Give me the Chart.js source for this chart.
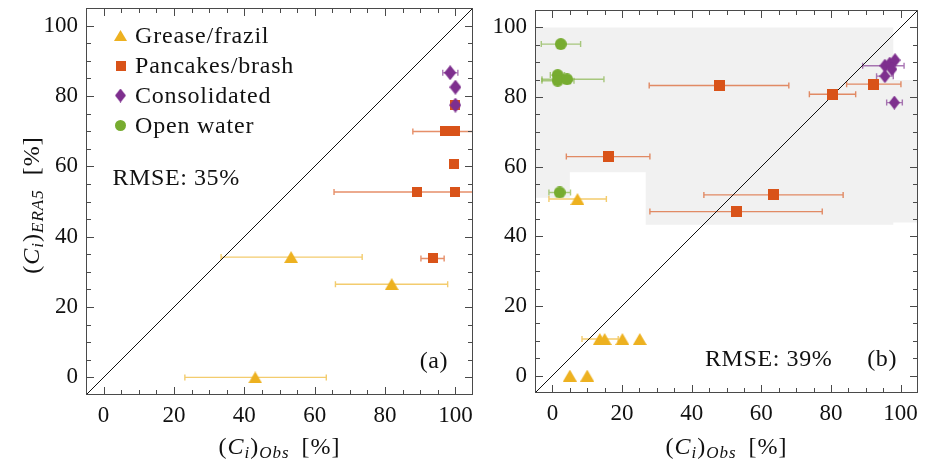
<!DOCTYPE html>
<html lang="en">
<head>
<meta charset="UTF-8" />
<title>Ice type concentration: ERA5 vs observations</title>
<script src="https://cdn.jsdelivr.net/npm/chart.js@4"></script>
<style>
  body { margin: 0; background: #fff; width: 926px; height: 465px; overflow: hidden; position: relative; }
  canvas { position: absolute; top: 0; }
  #chartA { left: 0; }
  #chartB { left: 480px; }
</style>
</head>
<body>
<canvas id="chartA" width="480" height="465"></canvas>
<canvas id="chartB" width="446" height="465"></canvas>
<script>
// axes
const axisMin = -5;
const axisMax = 105;
const tickVals = [0, 20, 40, 60, 80, 100];
const diagonal = [-5, 105];

const seriesNames = ['Grease/frazil', 'Pancakes/brash', 'Consolidated', 'Open water'];
const seriesColors = ['#EDB120', '#D95319', '#7E2F8E', '#77AC30'];
const errColors = ['rgba(237,177,32,0.65)', 'rgba(217,83,25,0.65)', 'rgba(126,47,142,0.65)', 'rgba(119,172,48,0.6)'];

// points: [obs, ERA5, obs low, obs high]  (null = no error bar)
// panel (a)
const aGrease = [[53.3, 34.2, 33.4, 73.5], [81.9, 26.5, 65.9, 97.8], [43.1, 0, 23.1, 63.3]];
const aPancake = [[93.6, 33.8, 90.2, 96.8], [89.1, 52.7, 65.5, 112], [100, 52.7, null, null],
  [99.7, 60.7, null, null], [96.9, 69.9, 87.9, 112], [100, 69.9, null, null], [100, 77.4, null, null]];
const aConsol = [[98.5, 86.6, 96.4, 100.7], [100, 82.5, null, null], [100, 77.4, null, null]];
const aOpen = [];
const aRmse = 'RMSE: 35%';

// panel (b)
const bGrease = [[7.2, 50.7, -1, 15.5], [13.6, 10.5, 8.5, 18.9], [15.0, 10.5, null, null],
  [20.1, 10.5, null, null], [25.1, 10.5, null, null], [5.0, 0, null, null], [10.0, 0, null, null]];
const bPancake = [[47.9, 83.3, 27.8, 67.9], [80.4, 80.8, 73.8, 87.1], [92.3, 83.7, 84.5, 100.1],
  [16.0, 62.9, 4.0, 28.0], [63.4, 51.9, 43.5, 83.5], [52.8, 47.1, 28.0, 77.5]];
const bConsol = [[98.2, 78.4, 96.0, 100.5], [95.5, 86.0, 93.1, 97.9], [95.5, 89.0, 89.1, 101.0],
  [96.9, 89.6, null, null], [98.4, 90.6, null, null], [97.5, 88.0, null, null]];
const bOpen = [[2.4, 95.2, -3.2, 8.1], [1.5, 86.3, -0.6, 3.5], [1.5, 84.7, -3.0, 6.2],
  [4.2, 85.1, -3.0, 14.8], [2.1, 52.6, -1.0, 5.2]];
const bRmse = 'RMSE: 39%';
// grey shaded area in (b), polygon in data units
const bShade = [[-5, 100], [97.9, 100], [97.9, 84.9], [105, 84.9], [105, 44], [97.9, 44], [97.9, 43.3],
  [26.8, 43.3], [26.8, 58.4], [5, 58.4], [5, 51.1], [-5, 51.1]];

const fontFam = '"Liberation Serif", "Times New Roman", serif';
const shapes = ['triangle', 'square', 'diamond', 'circle'];

function marker(shape, w, h, color) {
  const c = document.createElement('canvas');
  c.width = w; c.height = h;
  const g = c.getContext('2d');
  g.fillStyle = color;
  g.beginPath();
  if (shape === 'triangle') { g.moveTo(w / 2, 0); g.lineTo(w, h); g.lineTo(0, h); }
  else if (shape === 'square') { g.rect(0, 0, w, h); }
  else if (shape === 'diamond') { g.moveTo(w / 2, 0); g.lineTo(w, h / 2); g.lineTo(w / 2, h); g.lineTo(0, h / 2); }
  else { g.arc(w / 2, h / 2, w / 2, 0, Math.PI * 2); }
  g.closePath();
  g.fill();
  return c;
}

const sizesA = [[14, 12], [10, 10], [12, 15], [12, 12]];
const sizesB = [[14, 12], [11, 11], [11, 14], [12, 12]];
const sizesLegend = [[13, 11], [10, 10], [11, 14], [11, 11]];

const shadePlugin = {
  id: 'shade',
  beforeDatasetsDraw(chart, args, opts) {
    if (!opts.poly) return;
    const { ctx, scales: { x, y } } = chart;
    ctx.save();
    ctx.fillStyle = '#f1f1f1';
    ctx.beginPath();
    opts.poly.forEach((p, i) => {
      const px = x.getPixelForValue(p[0]), py = y.getPixelForValue(p[1]);
      if (i === 0) ctx.moveTo(px, py); else ctx.lineTo(px, py);
    });
    ctx.closePath();
    ctx.fill();
    ctx.restore();
  }
};

const errorBars = {
  id: 'errorBars',
  beforeDatasetsDraw(chart) {
    const { ctx, chartArea: a, scales: { x, y } } = chart;
    ctx.save();
    ctx.beginPath();
    ctx.rect(a.left, a.top, a.width, a.height);
    ctx.clip();
    ctx.lineWidth = 1.4;
    chart.data.datasets.forEach(ds => {
      if (!ds.xErr) return;
      ctx.strokeStyle = ds.errColor;
      ds.xErr.forEach((e, i) => {
        if (e[0] == null) return;
        const py = y.getPixelForValue(ds.data[i].y);
        const x0 = x.getPixelForValue(e[0]), x1 = x.getPixelForValue(e[1]);
        ctx.beginPath();
        ctx.moveTo(x0, py); ctx.lineTo(x1, py);
        ctx.moveTo(x0, py - 3); ctx.lineTo(x0, py + 3);
        ctx.moveTo(x1, py - 3); ctx.lineTo(x1, py + 3);
        ctx.stroke();
      });
    });
    ctx.restore();
  }
};

// box frame with inward major/minor ticks on all four sides
const framePlugin = {
  id: 'frame',
  afterDraw(chart) {
    const { ctx, chartArea: a, scales: { x, y } } = chart;
    ctx.save();
    ctx.strokeStyle = '#4a4a4a';
    ctx.lineWidth = 1;
    ctx.beginPath();
    for (let v = 0; v <= 100; v += 5) {
      const len = v % 20 === 0 ? 8 : 5;
      const px = Math.round(x.getPixelForValue(v)) + 0.5;
      const py = Math.round(y.getPixelForValue(v)) + 0.5;
      ctx.moveTo(px, a.bottom); ctx.lineTo(px, a.bottom - len);
      ctx.moveTo(px, a.top); ctx.lineTo(px, a.top + len);
      ctx.moveTo(a.left, py); ctx.lineTo(a.left + len, py);
      ctx.moveTo(a.right, py); ctx.lineTo(a.right - len, py);
    }
    ctx.stroke();
    ctx.strokeRect(a.left + 0.5, a.top + 0.5, a.width - 1, a.height - 1);
    ctx.restore();
  }
};

// parts: [text, 'n' upright | 'i' italic, subscript?]; a number is a blank gap in px
function drawMath(ctx, parts, cx, baseY) {
  const fontOf = p => (p[1] === 'i' ? 'italic ' : '') + (p[2] ? 17 : 24) + 'px ' + fontFam;
  const widthOf = p => {
    if (typeof p === 'number') return p;
    ctx.font = fontOf(p);
    return ctx.measureText(p[0]).width;
  };
  ctx.letterSpacing = '1px';
  let total = 0;
  parts.forEach(p => { total += widthOf(p); });
  let x = cx - total / 2;
  ctx.textAlign = 'left';
  ctx.textBaseline = 'alphabetic';
  parts.forEach(p => {
    const w = widthOf(p);
    if (typeof p !== 'number') ctx.fillText(p[0], x, baseY + (p[2] ? 4 : 0));
    x += w;
  });
}

const xTitle = [['(', 'n'], ['C', 'i'], ['i', 'i', 1], [')', 'n'], ['Obs', 'i', 1], 12, ['[%]', 'n']];
const yTitle = [['(', 'n'], ['C', 'i'], ['i', 'i', 1], [')', 'n'], ['ERA5', 'i', 1], 14, ['[%]', 'n']];

const textPlugin = {
  id: 'panelText',
  afterDraw(chart, args, opts) {
    const { ctx, chartArea: a, scales: { x, y } } = chart;
    ctx.save();
    ctx.fillStyle = '#111';
    // axis titles
    drawMath(ctx, xTitle, (a.left + a.right) / 2, 454);
    if (opts.yTitle) {
      ctx.save();
      ctx.translate(39, 205);
      ctx.rotate(-Math.PI / 2);
      drawMath(ctx, yTitle, 0, 0);
      ctx.restore();
    }
    ctx.font = '24px ' + fontFam;
    ctx.letterSpacing = '0.6px';
    ctx.textBaseline = 'alphabetic';
    ctx.textAlign = 'left';
    ctx.fillText(opts.rmse.text, x.getPixelForValue(opts.rmse.x), y.getPixelForValue(opts.rmse.y));
    ctx.textAlign = 'center';
    ctx.fillText(opts.tag.text, x.getPixelForValue(opts.tag.x), y.getPixelForValue(opts.tag.y));
    // legend
    if (opts.legend) {
      ctx.letterSpacing = '0.8px';
      ctx.textAlign = 'left';
      ctx.textBaseline = 'middle';
      seriesNames.forEach((name, i) => {
        const cy = a.top + 27.5 + i * 30;
        const [w, h] = sizesLegend[i];
        ctx.drawImage(marker(shapes[i], w, h, seriesColors[i]), a.left + 34.5 - w / 2, cy - h / 2);
        ctx.fillText(name, a.left + 49, cy + 1);
      });
    }
    ctx.restore();
  }
};

function toDataset(points, i, sizes) {
  const [w, h] = sizes[i];
  return {
    label: seriesNames[i],
    data: points.map(p => ({ x: p[0], y: p[1] })),
    xErr: points.map(p => [p[2], p[3]]),
    errColor: errColors[i],
    pointStyle: marker(shapes[i], w, h, seriesColors[i]),
    pointRadius: 6,
    order: 4 - i   // later series on top
  };
}

function makePanel(id, series, sizes, yWidth, xHeight, padding, text) {
  const datasets = series.map((s, i) => toDataset(s, i, sizes));
  datasets.push({
    type: 'line',
    label: 'y = x',
    data: diagonal.map(v => ({ x: v, y: v })),
    borderColor: '#111',
    borderWidth: 1,
    pointRadius: 0,
    order: 10
  });
  const tickFont = { family: fontFam, size: 23 };
  return new Chart(document.getElementById(id), {
    type: 'scatter',
    data: { datasets },
    options: {
      responsive: false,
      animation: false,
      events: [],
      layout: { padding },
      scales: {
        x: {
          type: 'linear', min: axisMin, max: axisMax,
          afterBuildTicks: s => { s.ticks = tickVals.map(v => ({ value: v })); },
          afterFit: s => { s.height = xHeight; s.paddingLeft = 0; s.paddingRight = 0; },
          grid: { display: false, drawTicks: false },
          border: { display: false },
          ticks: { font: tickFont, color: '#111', padding: 7, maxRotation: 0, autoSkip: false }
        },
        y: {
          type: 'linear', min: axisMin, max: axisMax,
          afterBuildTicks: s => { s.ticks = tickVals.map(v => ({ value: v })); },
          afterFit: s => { s.width = yWidth; s.paddingTop = 0; s.paddingBottom = 0; },
          grid: { display: false, drawTicks: false },
          border: { display: false },
          ticks: { font: tickFont, color: '#111', padding: 8, autoSkip: false }
        }
      },
      plugins: {
        legend: { display: false },
        tooltip: { enabled: false },
        shade: { poly: text.shade },
        panelText: text
      }
    },
    plugins: [shadePlugin, errorBars, framePlugin, textPlugin]
  });
}

makePanel('chartA', [aGrease, aPancake, aConsol, aOpen], sizesA, 86, 70,
  { left: 0, right: 4, top: 8, bottom: 0 },
  { legend: true, yTitle: true, rmse: { text: aRmse, x: 2.5, y: 54.7 }, tag: { text: '(a)', x: 93.9, y: 2.8 } });

makePanel('chartB', [bGrease, bPancake, bConsol, bOpen], sizesB, 55, 72,
  { left: 0, right: 8, top: 10, bottom: 0 },
  { legend: false, yTitle: false, shade: bShade, rmse: { text: bRmse, x: 43.8, y: 2.7 }, tag: { text: '(b)', x: 94.7, y: 2.7 } });
</script>
</body>
</html>
